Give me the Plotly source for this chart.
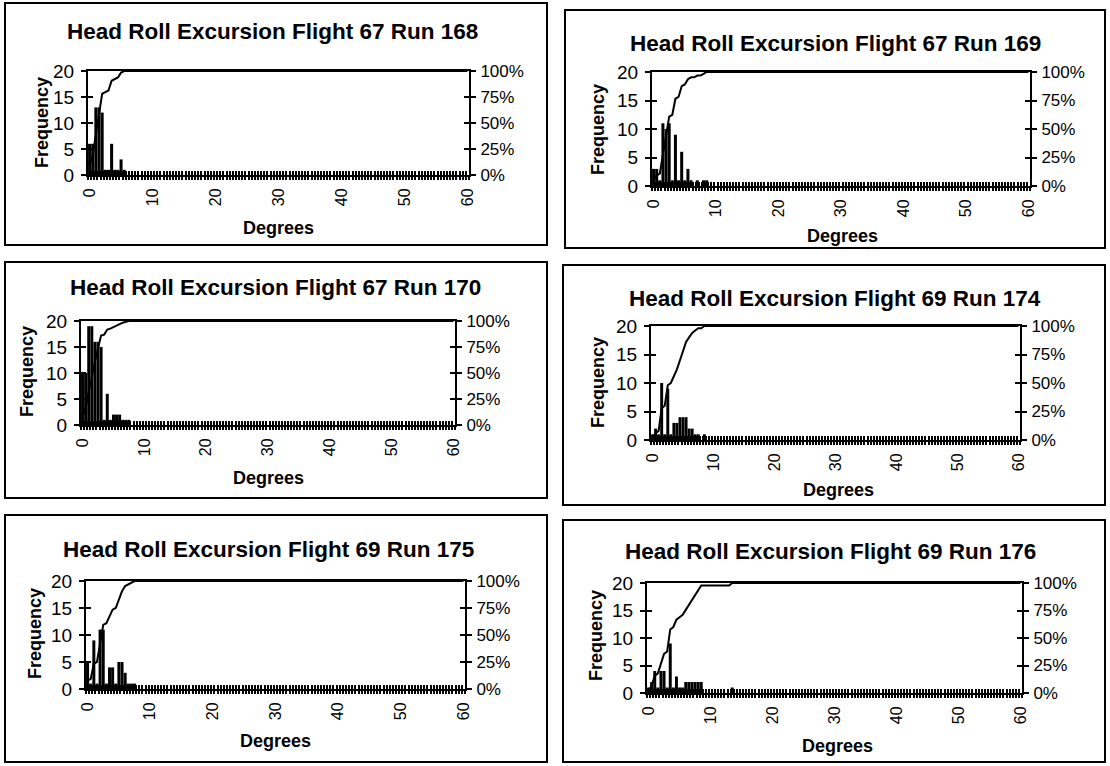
import plotly.graph_objects as go

W, H = 1110, 766

# Histogram categories: 0.5-degree bins from 0 to 60 degrees
degree_bins = [k / 2 for k in range(121)]
degree_labels = [0, 10, 20, 30, 40, 50, 60]
freq_ticks = [0, 5, 10, 15, 20]
pct_ticks = [0, 0.25, 0.5, 0.75, 1.0]
pct_labels = ["0%", "25%", "50%", "75%", "100%"]

titles = [
    "Head Roll Excursion Flight 67 Run 168",
    "Head Roll Excursion Flight 67 Run 169",
    "Head Roll Excursion Flight 67 Run 170",
    "Head Roll Excursion Flight 69 Run 174",
    "Head Roll Excursion Flight 69 Run 175",
    "Head Roll Excursion Flight 69 Run 176",
]

# Frequencies per 0.5-degree bin, starting at 0 degrees (remaining bins are empty)
freq_run168 = [6, 6, 13, 13, 12, 1, 1, 6, 1, 1, 3, 1]
freq_run169 = [3, 3, 1, 11, 10, 11, 1, 9, 1, 6, 1, 3, 1, 0, 1, 0, 1, 1]
freq_run170 = [10, 10, 19, 19, 16, 16, 15, 1, 6, 1, 2, 2, 2, 1, 1, 1]
freq_run174 = [1, 2, 1, 10, 1, 9, 1, 3, 3, 4, 4, 4, 2, 2, 1, 1, 0, 1]
freq_run175 = [5, 1, 9, 1, 11, 11, 1, 4, 4, 1, 5, 5, 3, 1, 1, 1]
freq_run176 = [1, 2, 4, 1, 4, 4, 1, 9, 1, 3, 1, 1, 2, 2, 2, 2, 2, 2,
               0, 0, 0, 0, 0, 0, 0, 0, 0, 1]

series = [freq_run168, freq_run169, freq_run170, freq_run174, freq_run175, freq_run176]

# Page geometry of each framed chart (pixels): frame, plot area, title, axis titles
panels = [
    dict(box=(5, 3, 547, 245), plot=(88, 71, 469, 175), title=(272, 32), ylab=(42, 123), xlab=(278, 228)),
    dict(box=(565, 10, 1105, 248), plot=(652, 72, 1030, 186), title=(835, 43), ylab=(598, 130), xlab=(842, 236)),
    dict(box=(5, 262, 547, 498), plot=(81, 321, 455, 425), title=(275, 287), ylab=(27, 372), xlab=(268, 478)),
    dict(box=(563, 265, 1105, 505), plot=(651, 326, 1020, 440), title=(835, 298), ylab=(598, 383), xlab=(838, 490)),
    dict(box=(5, 515, 547, 762), plot=(86, 581, 465, 689), title=(268, 549), ylab=(35, 634), xlab=(275, 741)),
    dict(box=(563, 520, 1105, 762), plot=(647, 583, 1022, 693), title=(830, 551), ylab=(596, 636), xlab=(837, 746)),
]

FONT = "Liberation Sans, Arial, sans-serif"


def fx(x):
    return x / W


def fy(y):
    return 1 - y / H


def key(prefix, n):
    return f"{prefix}axis" if n == 1 else f"{prefix}axis{n}"


def ref(prefix, n):
    return prefix if n == 1 else f"{prefix}{n}"


fig = go.Figure()
layout = {}
annotations = []
shapes = []

xr = [-0.25, 60.25]

for p, (spec, freq, title) in enumerate(zip(panels, series, titles)):
    xm, xo, xi = 3 * p + 1, 3 * p + 2, 3 * p + 3
    ym, yi, yr, yri = 4 * p + 1, 4 * p + 2, 4 * p + 3, 4 * p + 4
    x0, yt, x1, yb = spec["plot"]

    counts = freq + [0] * (len(degree_bins) - len(freq))
    total = sum(counts)
    running, cum = 0, []
    for c in counts:
        running += c
        cum.append(running / total)

    layout[key("x", xm)] = dict(
        domain=[fx(x0), fx(x1)], anchor=ref("y", ym), range=xr,
        tickmode="array", tickvals=degree_labels, ticktext=[str(v) for v in degree_labels],
        ticks="outside", ticklen=5, tickcolor="rgba(0,0,0,0)",
        tickangle=-90, tickfont=dict(family=FONT, size=16, color="black"),
        showline=True, linecolor="black", linewidth=2, mirror=True,
        showgrid=False, zeroline=False, automargin=False,
    )
    # category separators drawn as cross marks through the horizontal axis
    for n, side in ((xo, "outside"), (xi, "inside")):
        layout[key("x", n)] = dict(
            overlaying=ref("x", xm), anchor=ref("y", ym), range=xr,
            tickmode="linear", tick0=-0.25, dtick=0.5, ticks=side, ticklen=4,
            tickwidth=1.5, tickcolor="black", showticklabels=False,
            showline=False, showgrid=False, zeroline=False, automargin=False,
        )

    layout[key("y", ym)] = dict(
        domain=[fy(yb), fy(yt)], anchor=ref("x", xm), range=[0, 20],
        tickmode="array", tickvals=freq_ticks, ticks="outside", ticklen=5,
        tickwidth=2, tickcolor="black", ticklabelstandoff=3,
        tickfont=dict(family=FONT, size=19, color="black"),
        showline=True, linecolor="black", linewidth=2,
        showgrid=False, zeroline=False, automargin=False,
    )
    layout[key("y", yi)] = dict(
        overlaying=ref("y", ym), anchor=ref("x", xm), side="left", range=[0, 20],
        tickmode="array", tickvals=freq_ticks, ticks="inside", ticklen=5,
        tickwidth=2, tickcolor="black", showticklabels=False,
        showline=False, showgrid=False, zeroline=False, automargin=False,
    )
    layout[key("y", yr)] = dict(
        overlaying=ref("y", ym), anchor=ref("x", xm), side="right", range=[0, 1],
        tickmode="array", tickvals=pct_ticks, ticktext=pct_labels,
        ticks="outside", ticklen=5, tickwidth=2, tickcolor="black",
        ticklabelstandoff=1,
        tickfont=dict(family=FONT, size=17, color="black"),
        showline=True, linecolor="black", linewidth=2,
        showgrid=False, zeroline=False, automargin=False,
    )
    layout[key("y", yri)] = dict(
        overlaying=ref("y", ym), anchor=ref("x", xm), side="right", range=[0, 1],
        tickmode="array", tickvals=pct_ticks, ticks="inside", ticklen=5,
        tickwidth=2, tickcolor="black", showticklabels=False,
        showline=False, showgrid=False, zeroline=False, automargin=False,
    )

    fig.add_trace(go.Bar(
        x=degree_bins, y=counts, width=0.48,
        marker=dict(color="black", line=dict(width=0)),
        xaxis=ref("x", xm), yaxis=ref("y", ym), showlegend=False,
    ))
    fig.add_trace(go.Scatter(
        x=degree_bins, y=cum, mode="lines",
        line=dict(color="black", width=2),
        xaxis=ref("x", xm), yaxis=ref("y", yr), showlegend=False,
    ))
    # empty traces so the tick-only overlay axes get rendered
    for xa, ya in ((xo, yi), (xi, yri)):
        fig.add_trace(go.Scatter(
            x=[0], y=[0], mode="markers", marker=dict(opacity=0),
            hoverinfo="skip", showlegend=False,
            xaxis=ref("x", xa), yaxis=ref("y", ya),
        ))

    bx0, by0, bx1, by1 = spec["box"]
    shapes.append(dict(
        type="rect", xref="paper", yref="paper",
        x0=fx(bx0), x1=fx(bx1), y0=fy(by1), y1=fy(by0),
        line=dict(color="black", width=2), fillcolor="rgba(0,0,0,0)",
    ))

    tx, ty = spec["title"]
    annotations.append(dict(
        text=f"<b>{title}</b>", x=fx(tx), y=fy(ty), xref="paper", yref="paper",
        xanchor="center", yanchor="middle", showarrow=False,
        font=dict(family=FONT, size=22.5, color="black"),
    ))
    lx, ly = spec["ylab"]
    annotations.append(dict(
        text="<b>Frequency</b>", x=fx(lx), y=fy(ly), xref="paper", yref="paper",
        xanchor="center", yanchor="middle", showarrow=False, textangle=-90,
        font=dict(family=FONT, size=18, color="black"),
    ))
    dx, dy = spec["xlab"]
    annotations.append(dict(
        text="<b>Degrees</b>", x=fx(dx), y=fy(dy), xref="paper", yref="paper",
        xanchor="center", yanchor="middle", showarrow=False,
        font=dict(family=FONT, size=18, color="black"),
    ))

fig.update_layout(
    width=W, height=H,
    margin=dict(l=0, r=0, t=0, b=0, pad=0, autoexpand=False),
    paper_bgcolor="white", plot_bgcolor="white",
    showlegend=False, barmode="overlay",
    annotations=annotations, shapes=shapes,
    font=dict(family=FONT, color="black"),
    **layout,
)

fig.write_html("out.html")
